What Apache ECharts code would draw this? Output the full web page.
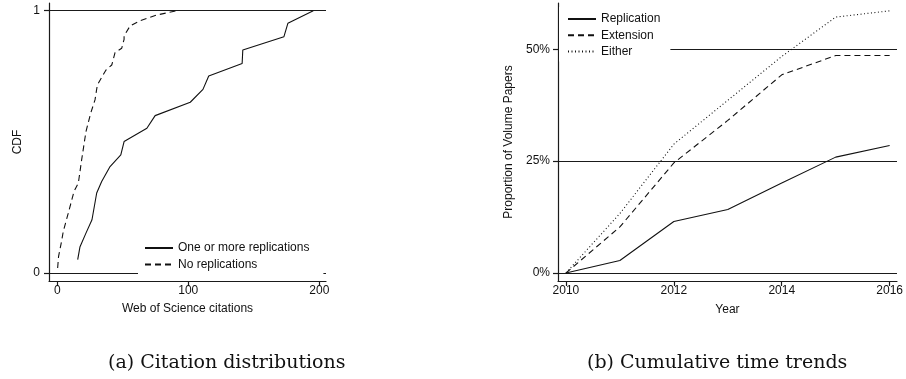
<!DOCTYPE html>
<html>
<head>
<meta charset="utf-8">
<script src="https://cdn.jsdelivr.net/npm/echarts@6/dist/echarts.min.js"></script>
<style>
html,body{margin:0;padding:0;background:#fff;}
#c{width:906px;height:379px;}
</style>
</head>
<body>
<div id="c"></div>
<script>
// ---- Panel (a): citation CDFs ----
const replX = [15.6, 17.3, 21.9, 26.5, 30.1, 33.9, 40.3, 48.5, 51.0, 68.4, 74.7, 101.5, 111.2, 115.6, 141.1, 141.6, 173.0, 176.0, 195.4];
const replY = [0.051, 0.099, 0.152, 0.203, 0.305, 0.349, 0.406, 0.450, 0.501, 0.552, 0.600, 0.651, 0.700, 0.751, 0.799, 0.850, 0.901, 0.952, 1.0];
const noReplX = [0.3, 1.0, 3.3, 4.6, 8.4, 12.8, 16.1, 18.6, 21.9, 25.5, 28.8, 30.6, 37.2, 41.6, 44.1, 49.2, 51.0, 51.0, 55.6, 63.3, 75.5, 91.3];
const noReplY = [0.019, 0.063, 0.121, 0.159, 0.228, 0.311, 0.343, 0.431, 0.539, 0.609, 0.660, 0.717, 0.774, 0.793, 0.840, 0.857, 0.891, 0.904, 0.942, 0.962, 0.983, 1.0];
const cdfXTicks = [0, 100, 200];
const cdfYTicks = [0, 1];

// ---- Panel (b): cumulative time trends (percent) ----
const years = [2010, 2011, 2012, 2013, 2014, 2015, 2016];
const replication = [0, 2.8, 11.5, 14.2, 20.1, 25.9, 28.5];
const extension = [0, 10.3, 24.6, 34.1, 44.3, 48.6, 48.6];
const either = [0, 13.3, 28.8, 38.6, 48.4, 57.2, 58.6];
const yearTicks = [2010, 2012, 2014, 2016];
const pctTicks = [0, 25, 50];

const captions = ['(a) Citation distributions', '(b) Cumulative time trends'];

const zip = (a, b) => a.map((v, i) => [v, b[i]]);
const FONT = 'Liberation Sans, Arial, sans-serif';
const INK = '#1a1a1a';

function axisBase(ticks, fmt, margin) {
  return {
    type: 'value',
    splitLine: {show: false},
    axisLine: {show: true, onZero: false, lineStyle: {color: INK, width: 1.2}},
    axisTick: {show: true, length: 5, customValues: ticks, lineStyle: {color: INK, width: 1.2}},
    axisLabel: {customValues: ticks, margin: margin, color: '#111', fontSize: 12, fontFamily: FONT, formatter: fmt},
    nameLocation: 'middle',
    nameTextStyle: {color: '#111', fontSize: 12, fontFamily: FONT}
  };
}

const refLine = (vals) => ({
  silent: true, symbol: ['none', 'none'], animation: false, z: 1,
  label: {show: false},
  emphasis: {disabled: true},
  lineStyle: {color: INK, width: 1.2, type: 'solid'},
  data: vals.map(v => ({yAxis: v}))
});

const legendCommon = {
  orient: 'vertical', itemWidth: 28, itemHeight: 12,
  backgroundColor: '#fff', z: 20,
  itemStyle: {opacity: 0},
  textStyle: {color: '#111', fontSize: 12, fontFamily: FONT}
};

const lineSeries = (name, xi, data, type) => ({
  name, type: 'line', xAxisIndex: xi, yAxisIndex: xi,
  data, symbol: 'none', showSymbol: false, z: 3,
  lineStyle: {color: '#111', width: 1.1, type}, itemStyle: {color: '#111'}
});

const chart = echarts.init(document.getElementById('c'), null, {renderer: 'canvas'});
chart.setOption({
  animation: false,
  backgroundColor: '#fff',
  grid: [
    {left: 49, top: 3, width: 277, height: 278},
    {left: 558, top: 3, width: 343, height: 278}
  ],
  xAxis: [
    Object.assign(axisBase(cdfXTicks, v => String(v), 4), {gridIndex: 0, min: -6.3, max: 205.1, name: 'Web of Science citations', nameGap: 22}),
    Object.assign(axisBase(yearTicks, v => String(v), 4), {gridIndex: 1, min: 2009.853, max: 2016.136, name: 'Year', nameGap: 23})
  ],
  yAxis: [
    Object.assign(axisBase(cdfYTicks, v => String(v), 9), {gridIndex: 0, min: -0.0305, max: 1.0294, name: 'CDF', nameGap: 25}),
    Object.assign(axisBase(pctTicks, v => v + '%', 8), {gridIndex: 1, min: -1.79, max: 60.35, name: 'Proportion of Volume Papers', nameGap: 43})
  ],
  legend: [
    Object.assign({}, legendCommon, {
      data: ['One or more replications', 'No replications'],
      left: 138, top: 238, padding: [4, 14, 5, 6], itemGap: 4.5
    }),
    Object.assign({}, legendCommon, {
      data: ['Replication', 'Extension', 'Either'],
      left: 559, top: 7, padding: [6, 10, 4, 8], itemGap: 4.3
    })
  ],
  series: [
    Object.assign(lineSeries('One or more replications', 0, zip(replX, replY), 'solid'), {markLine: refLine(cdfYTicks)}),
    lineSeries('No replications', 0, zip(noReplX, noReplY), [6, 4]),
    Object.assign(lineSeries('Replication', 1, zip(years, replication), 'solid'), {markLine: refLine(pctTicks)}),
    lineSeries('Extension', 1, zip(years, extension), [6, 4]),
    lineSeries('Either', 1, zip(years, either), [1, 2.5])
  ],
  graphic: [
    {type: 'text', left: 108, top: 354, style: {text: captions[0], fill: '#111', font: '19px "DejaVu Serif", serif'}},
    {type: 'text', left: 587, top: 354, style: {text: captions[1], fill: '#111', font: '19px "DejaVu Serif", serif'}}
  ]
});
</script>
</body>
</html>
